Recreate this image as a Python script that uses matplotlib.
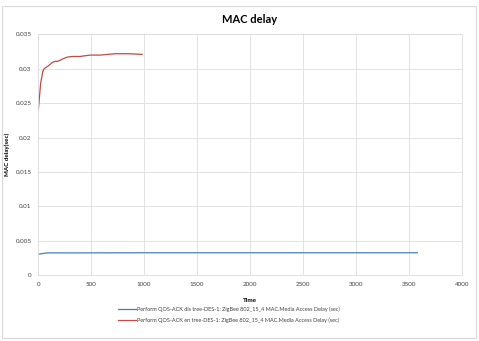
import matplotlib.pyplot as plt
from matplotlib.patches import Rectangle

plt.rcParams['font.family'] = ['Lato', 'DejaVu Sans']

# ========= DATOS =========
t_dis = [0, 30, 60, 90, 150, 300, 600, 1000, 1500, 2000, 2500, 3000, 3580]
d_dis = [0.00305, 0.00312, 0.0032, 0.00324, 0.00325, 0.00324, 0.00325, 0.00326,
         0.00326, 0.00326, 0.00326, 0.00326, 0.00326]

t_en = [0, 22, 42, 54, 92, 130, 160, 187, 225, 272, 320, 395, 490, 585, 728, 850, 980]
d_en = [0.0240, 0.0279, 0.0296, 0.0300, 0.0304, 0.0309, 0.0311, 0.0311, 0.0314,
        0.0317, 0.0318, 0.0318, 0.0320, 0.0320, 0.0322, 0.0322, 0.0321]

lbl_dis = "Perform QOS-ACK dis tree-DES-1: ZigBee 802_15_4 MAC.Media Access Delay (sec)"
lbl_en = "Perform QOS-ACK en tree-DES-1: ZigBee 802_15_4 MAC.Media Access Delay (sec)"

x_ticks = [0, 500, 1000, 1500, 2000, 2500, 3000, 3500, 4000]
y_ticks = [0, 0.005, 0.01, 0.015, 0.02, 0.025, 0.03, 0.035]

# ========= GRAFICAR =========
fig = plt.figure(figsize=(4.79, 3.41), dpi=100)
ax = fig.add_axes([0.080, 0.193, 0.884, 0.706])

ax.plot(t_dis, d_dis, color='#4a7ebb', linewidth=0.9, label=lbl_dis)
ax.plot(t_en, d_en, color='#be4b48', linewidth=0.9, label=lbl_en)

ax.set_xlim(0, 4000)
ax.set_ylim(0, 0.035)
ax.set_xticks(x_ticks)
ax.set_yticks(y_ticks)
ax.set_xticklabels([str(v) for v in x_ticks])
ax.set_yticklabels(['0', '0.005', '0.01', '0.015', '0.02', '0.025', '0.03', '0.035'])
ax.tick_params(length=0, labelsize=4.5, labelcolor='#404040', pad=5)

ax.grid(True, color='#dedede', linewidth=0.6)
ax.set_axisbelow(True)
for s in ax.spines.values():
    s.set_color('#dedede')
    s.set_linewidth(0.6)

ax.set_title("MAC delay", fontsize=8, fontweight='bold', pad=8)
ax.set_xlabel("Time", fontsize=4.5, fontweight='bold', labelpad=8)
ax.set_ylabel("MAC delay(sec)", fontsize=4.5, fontweight='bold')
ax.yaxis.set_label_coords(-0.068, 0.5)

leg = ax.legend(loc='upper center', bbox_to_anchor=(0.45, -0.11), frameon=False,
                fontsize=4, handlelength=3.2, labelspacing=1.0, handletextpad=0.3)
for txt in leg.get_texts():
    txt.set_color('#404040')

# ---------- BORDE EXTERIOR ----------
fig.patches.append(Rectangle((0.004, 0.009), 0.989, 0.974, transform=fig.transFigure,
                             fill=False, edgecolor='#d9d9d9', linewidth=0.8))

fig.savefig("out.png", dpi=100)
